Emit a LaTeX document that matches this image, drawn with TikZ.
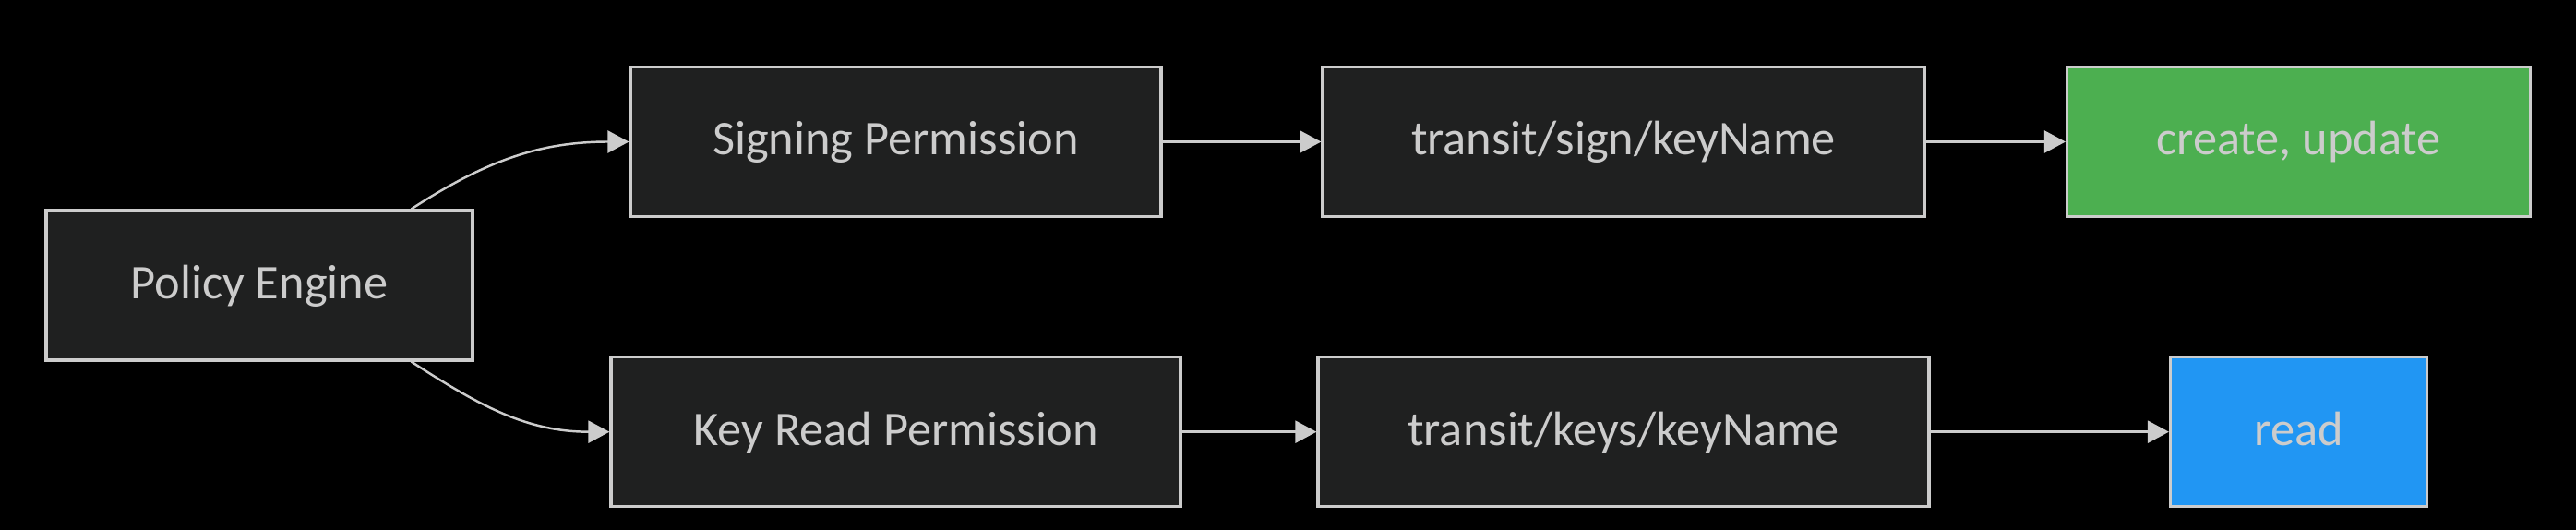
\documentclass[tikz,border=0pt]{standalone}
\usepackage{fontspec}
\setmainfont{Carlito}
\usepackage{tikz}
\usetikzlibrary{positioning,arrows.meta}
\usepackage{xcolor}
\definecolor{nodebg}{HTML}{1F2020}
\definecolor{edgegray}{HTML}{CCCCCC}
\definecolor{okgreen}{HTML}{4CAF50}
\definecolor{okblue}{HTML}{2196F3}

\tikzset{
  perm/.style={draw=edgegray,line width=0.9pt,fill=nodebg,text=edgegray,
    minimum height=1.62cm,inner sep=0pt,text height=9.6pt,text depth=1.4pt,
    font=\fontsize{14.9pt}{17pt}\selectfont},
  flow/.style={draw=edgegray,line width=0.7pt,-{Triangle[length=0.23cm,width=0.24cm]}}
}

\begin{document}
\begin{tikzpicture}[node distance=1.49cm]
\fill[black] (0,0) rectangle (27.91,-5.74);
\useasboundingbox (0,0) rectangle (27.91,-5.74);
\node[perm,minimum width=4.62cm] (pe) at (2.81,-3.09) {Policy Engine};
\node[perm,minimum width=5.75cm] (sp) at (9.705,-1.535) {Signing Permission};
\node[perm,minimum width=6.17cm] (kr) [below=of sp] {Key Read Permission};
\node[perm,minimum width=6.52cm] (ts) at (17.59,-1.535) {transit/sign/keyName};
\node[perm,minimum width=6.62cm] (tk) [below=of ts] {transit/keys/keyName};
\node[perm,minimum width=5.02cm,fill=okgreen] (cu) at (24.905,-1.535) {create, update};
\node[perm,minimum width=2.78cm,fill=okblue] (rd) [below=of cu] {read};
\draw[flow] ([xshift=-0.68cm]pe.north east) to[out=33,in=180] (sp.west);
\draw[flow] ([xshift=-0.68cm]pe.south east) to[out=-33,in=180] (kr.west);
\draw[flow] (sp) -- (ts);
\draw[flow] (ts) -- (cu);
\draw[flow] (kr) -- (tk);
\draw[flow] (tk) -- (rd);
\end{tikzpicture}
\end{document}
